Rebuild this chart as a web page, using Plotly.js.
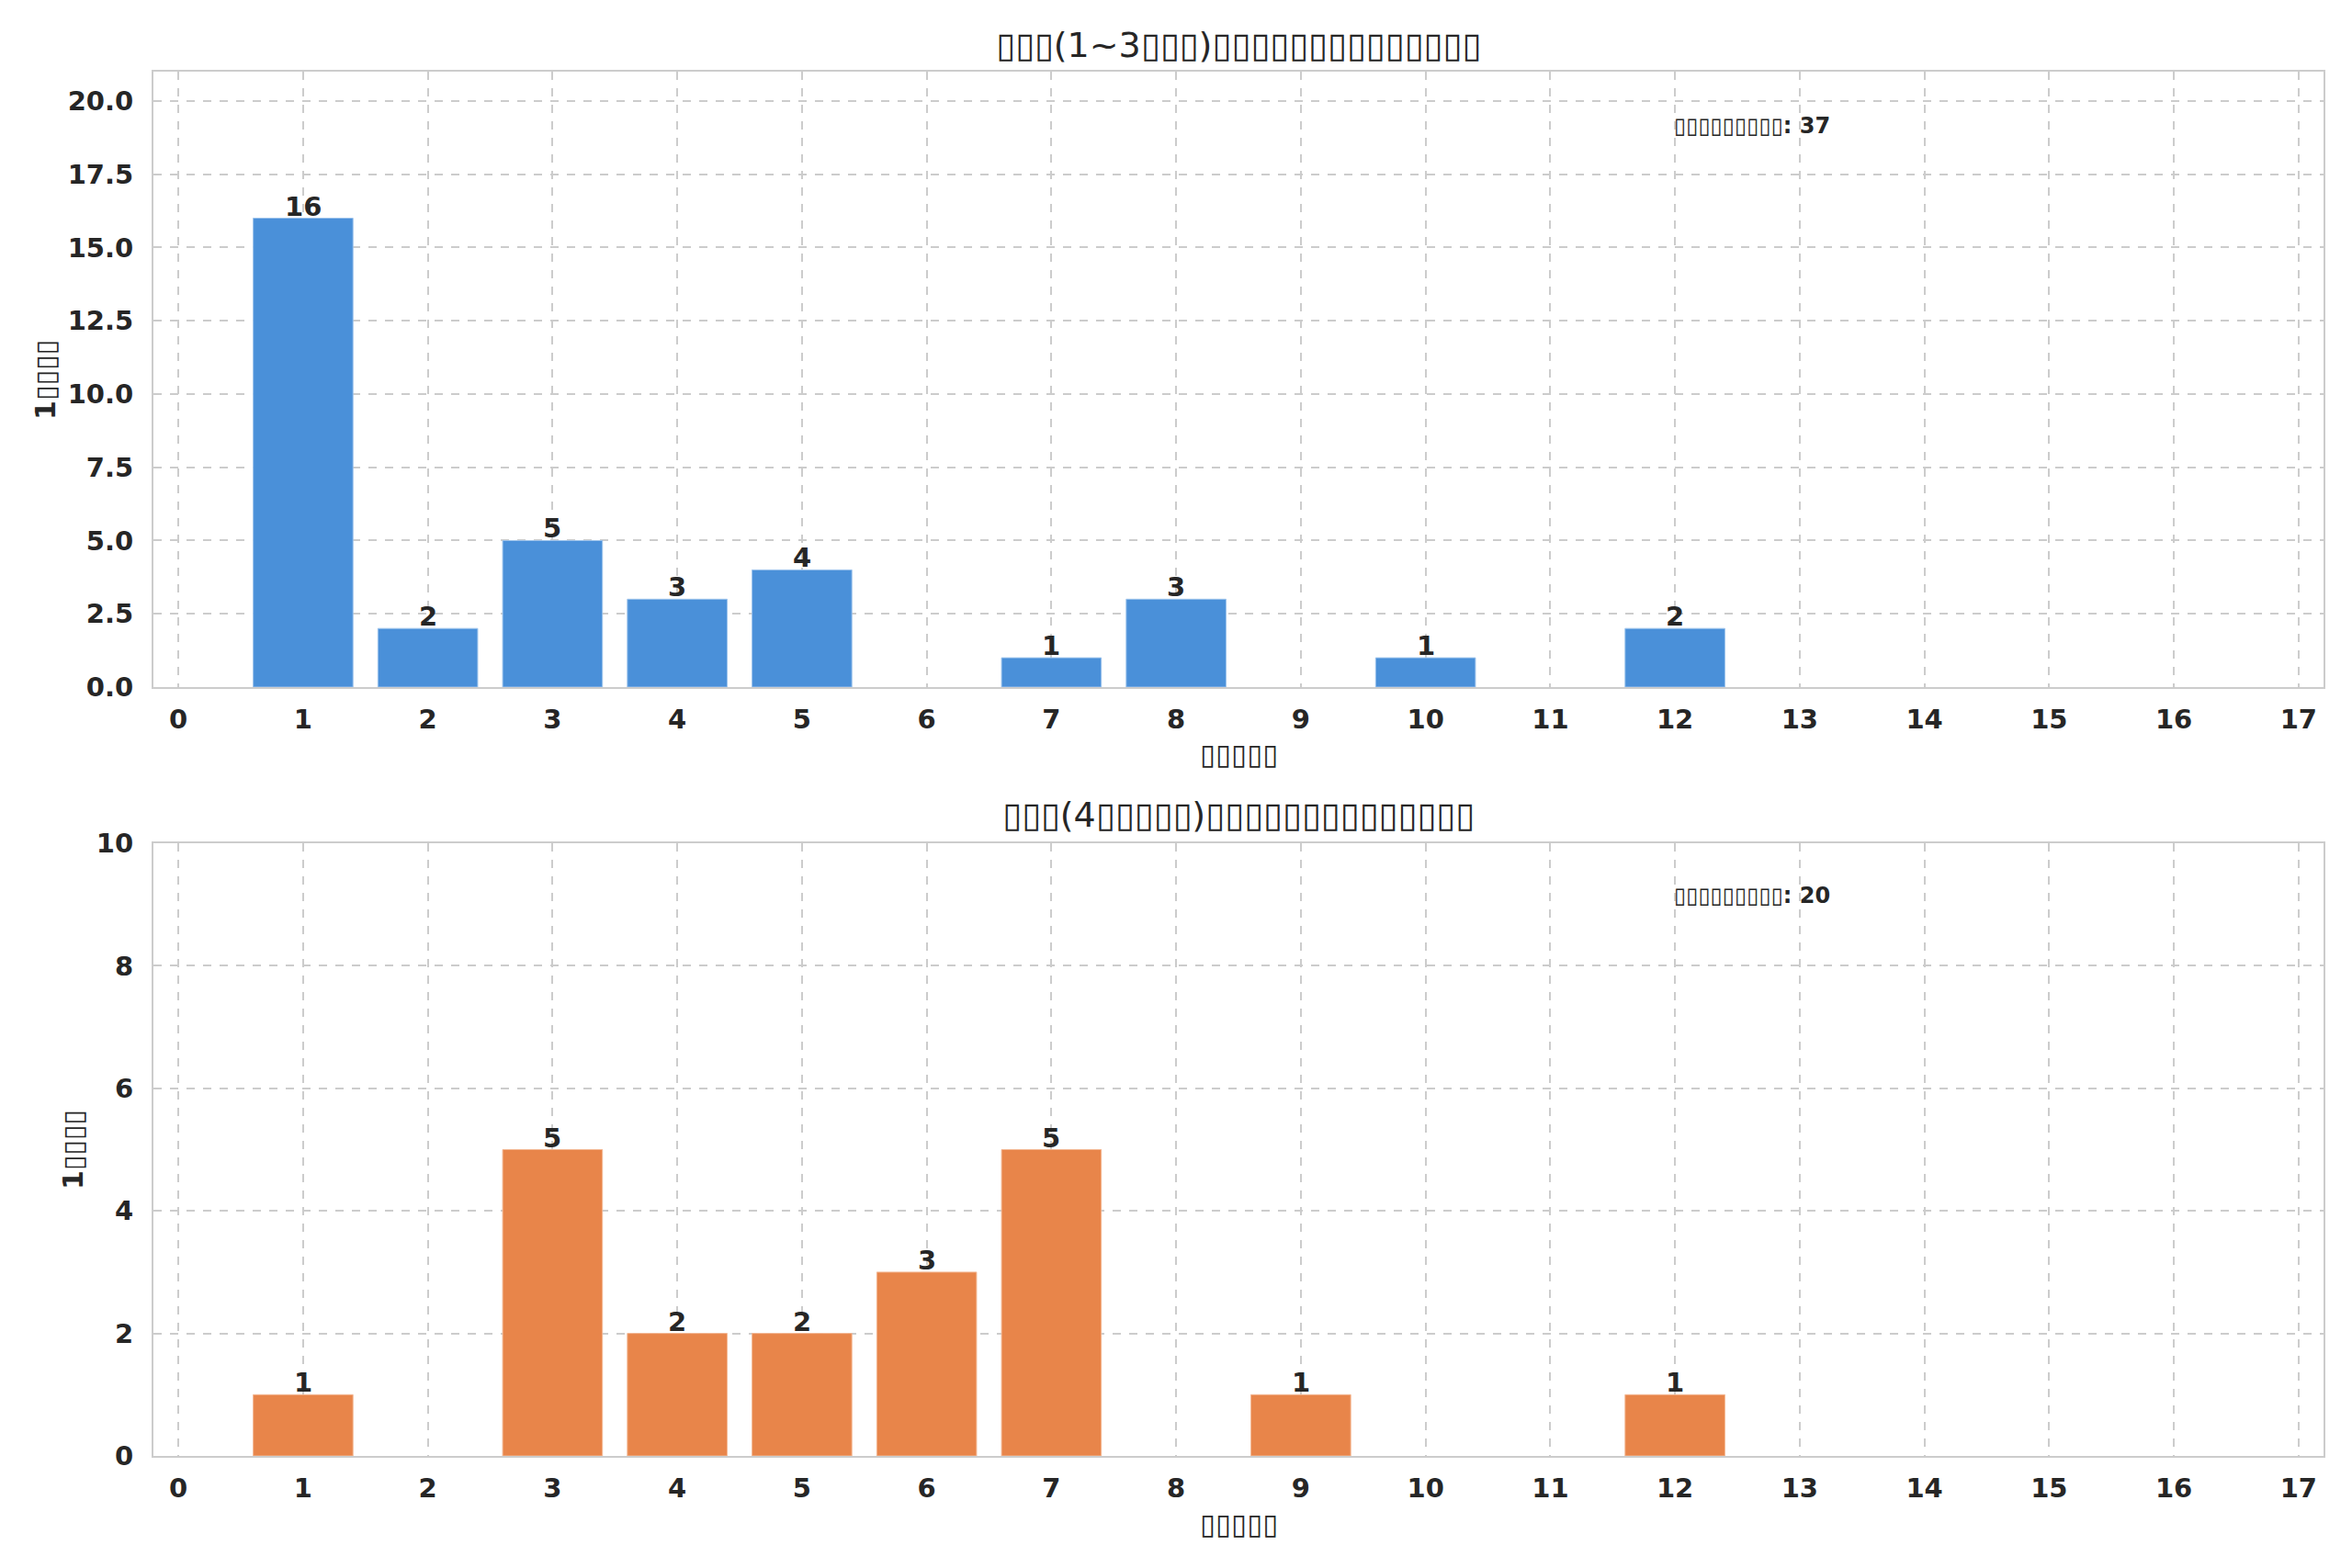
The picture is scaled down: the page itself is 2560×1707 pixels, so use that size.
<!DOCTYPE html>
<html>
<head>
<meta charset="utf-8">
<script src="https://cdn.plot.ly/plotly-3.0.1.min.js"></script>
<style>
  html, body { margin: 0; padding: 0; background: #fff; }
  #plot { width: 2560px; height: 1707px; }
</style>
</head>
<body>
<div id="plot"></div>
<script>
// top panel (blue)
var lowerHours = [1, 2, 3, 4, 5, 7, 8, 10, 12];
var lowerCounts = [16, 2, 5, 3, 4, 1, 3, 1, 2];
var lowerTotal = 37;

// bottom panel (orange)
var upperHours = [1, 3, 4, 5, 6, 7, 9, 12];
var upperCounts = [1, 5, 2, 2, 3, 5, 1, 1];
var upperTotal = 20;

var xTicks = [0, 1, 2, 3, 4, 5, 6, 7, 8, 9, 10, 11, 12, 13, 14, 15, 16, 17];

// glyphs that the source could not draw
var titleTop = "▯▯▯(1~3▯▯▯)▯▯▯▯▯▯▯▯▯▯▯▯▯▯";
var titleBottom = "▯▯▯(4▯▯▯▯▯)▯▯▯▯▯▯▯▯▯▯▯▯▯▯";
var xLabel = "▯▯▯▯▯";
var yLabel = "1▯▯▯▯";
var totalLabel = "▯▯▯▯▯▯▯▯▯: ";

var ink = "#262626";
var font = "DejaVu Sans";

var trace1 = {
  x: lowerHours,
  y: lowerCounts,
  type: "bar",
  width: 0.8,
  marker: {color: "#4a90d9", line: {color: "#9cc3ec", width: 1}},
  xaxis: "x",
  yaxis: "y",
  hoverinfo: "x+y"
};

var trace2 = {
  x: upperHours,
  y: upperCounts,
  type: "bar",
  width: 0.8,
  marker: {color: "#e8854a", line: {color: "#f3b894", width: 1}},
  xaxis: "x2",
  yaxis: "y2",
  hoverinfo: "x+y"
};

// count labels sitting right on the bar tops
function barLabels(xs, ys, xref, yref) {
  return xs.map(function(x, i) {
    return {
      x: x, y: ys[i], xref: xref, yref: yref,
      text: String(ys[i]), showarrow: false,
      xanchor: "center", yanchor: "bottom", yshift: -6,
      font: {family: font, size: 29, color: ink, weight: "bold"}
    };
  });
}

function xAxis(anchor) {
  return {
    anchor: anchor,
    domain: [0, 1],
    range: [-0.2, 17.2],
    tickvals: xTicks,
    ticktext: xTicks.map(String),
    ticks: "",
    ticklabelstandoff: 8,
    tickfont: {family: font, size: 29, color: ink, weight: "bold"},
    showgrid: true,
    gridcolor: "#cccccc",
    gridwidth: 2,
    griddash: "dash",
    zeroline: false,
    showline: true,
    linecolor: "#cccccc",
    linewidth: 2,
    mirror: true
  };
}

function yAxis(anchor, domain, range, dtick, fmt) {
  return {
    anchor: anchor,
    domain: domain,
    range: range,
    dtick: dtick,
    tick0: 0,
    tickformat: fmt,
    ticks: "",
    ticklabelstandoff: 14,
    tickfont: {family: font, size: 29, color: ink, weight: "bold"},
    showgrid: true,
    gridcolor: "#cccccc",
    gridwidth: 2,
    griddash: "dash",
    zeroline: false,
    showline: true,
    linecolor: "#cccccc",
    linewidth: 2,
    mirror: true
  };
}

var notes = [
  {text: titleTop, xref: "paper", yref: "paper", x: 0.5, y: 1.0192,
   xanchor: "center", yanchor: "middle", showarrow: false,
   font: {family: font, size: 38, color: ink}},
  {text: titleBottom, xref: "paper", yref: "paper", x: 0.5, y: 0.4632,
   xanchor: "center", yanchor: "middle", showarrow: false,
   font: {family: font, size: 38, color: ink}},
  {text: xLabel, xref: "paper", yref: "paper", x: 0.5, y: 0.507,
   xanchor: "center", yanchor: "middle", showarrow: false,
   font: {family: font, size: 31, color: ink, weight: "bold"}},
  {text: xLabel, xref: "paper", yref: "paper", x: 0.5, y: -0.049,
   xanchor: "center", yanchor: "middle", showarrow: false,
   font: {family: font, size: 31, color: ink, weight: "bold"}},
  {text: yLabel, xref: "paper", yref: "paper", x: -0.05, y: 0.7777,
   xanchor: "center", yanchor: "middle", textangle: -90, showarrow: false,
   font: {family: font, size: 30, color: ink, weight: "bold"}},
  {text: yLabel, xref: "paper", yref: "paper", x: -0.0368, y: 0.221,
   xanchor: "center", yanchor: "middle", textangle: -90, showarrow: false,
   font: {family: font, size: 30, color: ink, weight: "bold"}},
  {text: totalLabel + lowerTotal, xref: "x domain", yref: "y domain", x: 0.70, y: 0.912,
   xanchor: "left", yanchor: "middle", showarrow: false,
   font: {family: font, size: 24, color: ink, weight: "bold"}},
  {text: totalLabel + upperTotal, xref: "x2 domain", yref: "y2 domain", x: 0.70, y: 0.914,
   xanchor: "left", yanchor: "middle", showarrow: false,
   font: {family: font, size: 24, color: ink, weight: "bold"}}
];

var layout = {
  width: 2560,
  height: 1707,
  paper_bgcolor: "#ffffff",
  plot_bgcolor: "#ffffff",
  showlegend: false,
  margin: {l: 167, r: 31, t: 78, b: 122},
  font: {family: font, color: ink},
  xaxis: xAxis("y"),
  yaxis: yAxis("x", [0.5554, 1], [0, 21], 2.5, ".1f"),
  xaxis2: xAxis("y2"),
  yaxis2: yAxis("x2", [0, 0.4426], [0, 10], 2, "d"),
  annotations: notes
    .concat(barLabels(lowerHours, lowerCounts, "x", "y"))
    .concat(barLabels(upperHours, upperCounts, "x2", "y2"))
};

Plotly.newPlot("plot", [trace1, trace2], layout, {displayModeBar: false, staticPlot: true});
</script>
</body>
</html>
